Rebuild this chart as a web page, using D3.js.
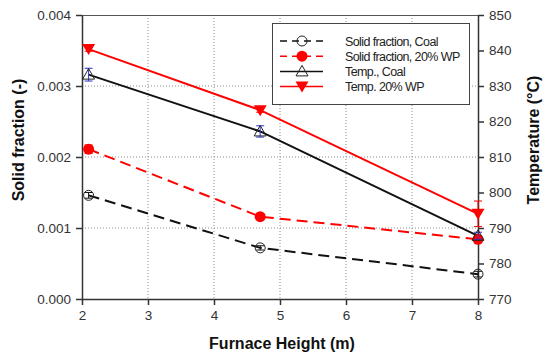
<!DOCTYPE html>
<html>
<head>
<meta charset="utf-8">
<script src="https://cdn.jsdelivr.net/npm/d3@7"></script>
<style>
  html, body { margin: 0; padding: 0; background: #fff; }
  svg { display: block; font-family: "Liberation Sans", Arial, sans-serif; }
</style>
</head>
<body>
<svg id="chart" width="546" height="355"></svg>
<script>
// Measurement positions along the furnace (m)
const heights = [2.1, 4.7, 8.0];

// Solid fraction (-) with error half-widths
const solidCoal = [0.00146, 0.00072, 0.00035];
const solidCoalErr = [0.00004, 0.00003, 0.00004];
const solidWP = [0.00211, 0.00116, 0.00084];
const solidWPErr = [0.00006, 0.00004, 0.00004];

// Temperature (°C) with error half-widths
const tempCoal = [833.2, 817.2, 787.8];
const tempCoalErr = [1.8, 1.6, 1.0];
const tempWP = [840.4, 823.2, 794.0];
const tempWPErr = [0.6, 0.6, 3.6];

const xTicks = [2, 3, 4, 5, 6, 7, 8];
const yLeftTicks = [0, 0.001, 0.002, 0.003, 0.004];
const yRightTicks = [770, 780, 790, 800, 810, 820, 830, 840, 850];

const legendLabels = ["Solid fraction, Coal", "Solid fraction, 20% WP", "Temp., Coal", "Temp. 20% WP"];

const svg = d3.select("#chart");
const m = { left: 82, right: 478, top: 15, bottom: 299 };

const x = d3.scaleLinear().domain([2, 8]).range([m.left, m.right]);
const yL = d3.scaleLinear().domain([0, 0.004]).range([m.bottom, m.top]);
const yR = d3.scaleLinear().domain([770, 850]).range([m.bottom, m.top]);

const axisColor = "#333";
const textColor = "#333";

// Grid lines
const grid = svg.append("g");
xTicks.slice(1, -1).forEach(t => {
  grid.append("line").attr("x1", x(t)).attr("x2", x(t)).attr("y1", m.top).attr("y2", m.bottom)
    .attr("stroke", "#8a8a8a").attr("stroke-width", 1).attr("stroke-dasharray", "1,2");
});
yLeftTicks.slice(1, -1).forEach(t => {
  grid.append("line").attr("x1", m.left).attr("x2", m.right).attr("y1", yL(t)).attr("y2", yL(t))
    .attr("stroke", "#8a8a8a").attr("stroke-width", 1).attr("stroke-dasharray", "1,2");
});

// Top frame line
svg.append("line").attr("x1", m.left).attr("x2", m.right).attr("y1", m.top + 0.5).attr("y2", m.top + 0.5)
  .attr("stroke", "#555").attr("stroke-width", 1);

// Axes
function styleAxis(g) {
  g.selectAll(".domain").attr("stroke", axisColor).attr("stroke-width", 1.5);
  g.selectAll(".tick line").attr("stroke", axisColor).attr("stroke-width", 1.5);
  g.selectAll(".tick text").attr("fill", textColor).attr("font-size", "13.5px");
}

svg.append("g").attr("transform", `translate(0,${m.bottom})`)
  .call(d3.axisBottom(x).tickValues(xTicks).tickFormat(d3.format("d")).tickSize(6).tickSizeOuter(0).tickPadding(5))
  .call(styleAxis);

svg.append("g").attr("transform", `translate(${m.left},0)`)
  .call(d3.axisLeft(yL).tickValues(yLeftTicks).tickFormat(d3.format(".3f")).tickSize(6).tickSizeOuter(0).tickPadding(5))
  .call(styleAxis);

svg.append("g").attr("transform", `translate(${m.right},0)`)
  .call(d3.axisRight(yR).tickValues(yRightTicks).tickFormat(d3.format("d")).tickSize(6).tickSizeOuter(0).tickPadding(5))
  .call(styleAxis);

// Axis titles
svg.append("text").attr("x", 282).attr("y", 349).attr("text-anchor", "middle")
  .attr("font-size", "16px").attr("font-weight", "bold").attr("fill", "#111").text("Furnace Height (m)");
svg.append("text").attr("transform", "translate(24,140) rotate(-90)").attr("text-anchor", "middle")
  .attr("font-size", "16px").attr("font-weight", "bold").attr("fill", "#111").text("Solid fraction (-)");
svg.append("text").attr("transform", "translate(539,140) rotate(-90)").attr("text-anchor", "middle")
  .attr("font-size", "16px").attr("font-weight", "bold").attr("fill", "#111").text("Temperature (°C)");

// Series definitions
const series = [
  { vals: solidCoal, err: solidCoalErr, y: yL, color: "#111", dash: "11,6", marker: "circleOpen", errColor: "#111" },
  { vals: solidWP, err: solidWPErr, y: yL, color: "#ff0000", dash: "11,6", marker: "circleFilled", errColor: "#ff0000" },
  { vals: tempCoal, err: tempCoalErr, y: yR, color: "#111", dash: null, marker: "triUp", errColor: "#3333cc" },
  { vals: tempWP, err: tempWPErr, y: yR, color: "#ff0000", dash: null, marker: "triDown", errColor: "#ff0000" }
];

function drawMarker(g, type, cx, cy, color) {
  if (type === "circleOpen") {
    g.append("circle").attr("cx", cx).attr("cy", cy).attr("r", 5)
      .attr("fill", "none").attr("stroke", "#222").attr("stroke-width", 1);
  } else if (type === "circleFilled") {
    g.append("circle").attr("cx", cx).attr("cy", cy).attr("r", 5.5).attr("fill", color);
  } else if (type === "triUp") {
    g.append("path").attr("d", `M${cx},${cy - 6}L${cx + 6},${cy + 4.5}L${cx - 6},${cy + 4.5}Z`)
      .attr("fill", "none").attr("stroke", "#222").attr("stroke-width", 1);
  } else if (type === "triDown") {
    g.append("path").attr("d", `M${cx - 6.5},${cy - 5}L${cx + 6.5},${cy - 5}L${cx},${cy + 6}Z`)
      .attr("fill", color);
  }
}

const line = (s) => d3.line().x((d, i) => x(heights[i])).y(d => s.y(d));

series.forEach(s => {
  const g = svg.append("g");
  g.append("path").datum(s.vals).attr("d", line(s)).attr("fill", "none")
    .attr("stroke", s.color).attr("stroke-width", 2)
    .attr("stroke-dasharray", s.dash);
});

// Error bars and markers on top of lines
series.forEach(s => {
  const g = svg.append("g");
  s.vals.forEach((v, i) => {
    const cx = x(heights[i]);
    const y1 = s.y(v - s.err[i]), y2 = s.y(v + s.err[i]);
    g.append("line").attr("x1", cx).attr("x2", cx).attr("y1", y1).attr("y2", y2)
      .attr("stroke", s.errColor).attr("stroke-width", 1);
    [y1, y2].forEach(yy => g.append("line").attr("x1", cx - 4).attr("x2", cx + 4).attr("y1", yy).attr("y2", yy)
      .attr("stroke", s.errColor).attr("stroke-width", 1));
    drawMarker(g, s.marker, cx, s.y(v), s.color);
  });
});

// Legend
const lg = svg.append("g");
lg.append("rect").attr("x", 272.5).attr("y", 23.5).attr("width", 197).attr("height", 81)
  .attr("fill", "#fff").attr("stroke", "#444").attr("stroke-width", 1);
series.forEach((s, i) => {
  const yy = 41 + i * 15.2;
  lg.append("line").attr("x1", 280).attr("x2", 323).attr("y1", yy).attr("y2", yy)
    .attr("stroke", s.color).attr("stroke-width", 1.5)
    .attr("stroke-dasharray", s.dash ? "7,5" : null);
  drawMarker(lg, s.marker, 302, yy, s.color);
  lg.append("text").attr("x", 345).attr("y", yy + 4.5).attr("font-size", "12.5px")
    .attr("letter-spacing", "-0.6px").attr("fill", "#222").text(legendLabels[i]);
});
</script>
</body>
</html>
